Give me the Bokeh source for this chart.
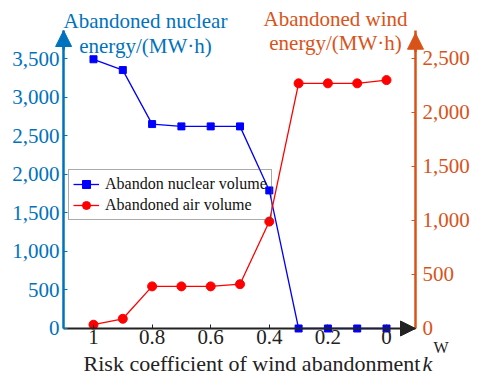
from bokeh.plotting import figure
from bokeh.models import (Range1d, LinearAxis, FixedTicker, NumeralTickFormatter,
                          Label, Arrow, NormalHead, Legend, LegendItem)
from bokeh.embed import file_html
from bokeh.resources import INLINE

# ---- data ----
risk_k = [1.0, 0.9, 0.8, 0.7, 0.6, 0.5, 0.4, 0.3, 0.2, 0.1, 0.0]
nuclear = [3490, 3350, 2650, 2620, 2620, 2620, 1790, 0, 0, 0, 0]
wind = [35, 90, 390, 390, 390, 410, 990, 2270, 2270, 2270, 2300]
x_ticks = [1.0, 0.8, 0.6, 0.4, 0.2, 0.0]
x_tick_labels = {1.0: "1", 0.8: "0.8", 0.6: "0.6", 0.4: "0.4", 0.2: "0.2", 0.0: "0"}
left_ticks = [0, 500, 1000, 1500, 2000, 2500, 3000, 3500]
right_ticks = [0, 500, 1000, 1500, 2000, 2500]

BLUE_AX = "#0072BD"
ORANGE_AX = "#D95319"
FONT = "Liberation Serif"

# axis extents (data units)
AX_L, AX_R = 1.102, -0.099      # x positions of left / right value axes
YL_TOP, YR_TOP = 3863, 2759     # tops of left / right axes
# visible window (whole canvas is the plotting frame)
W, H = 479, 375
XS, XE = 1.3174, -0.3174
YS, YE = -609.3, 4251.9
RS, RE = -435.2, 3037.0

p = figure(width=W, height=H, output_backend="svg", toolbar_location=None,
           x_range=Range1d(XS, XE), y_range=Range1d(YS, YE),
           min_border=0)
p.min_border_left = p.min_border_right = p.min_border_top = p.min_border_bottom = 0
p.title.visible = False
p.extra_y_ranges = {"right": Range1d(RS, RE)}
p.outline_line_color = None
p.xgrid.visible = False
p.ygrid.visible = False
p.background_fill_color = "white"
p.border_fill_color = "white"

# x axis
xa = p.xaxis[0]
xa.fixed_location = 0
xa.bounds = (AX_R, AX_L)
xa.ticker = FixedTicker(ticks=x_ticks)
xa.major_label_overrides = x_tick_labels
xa.axis_line_color = "#222222"
xa.axis_line_width = 2
xa.major_tick_in = 4
xa.major_tick_out = 0
xa.major_tick_line_color = "#222222"
xa.minor_tick_line_color = None
xa.major_label_text_font = FONT
xa.major_label_text_font_size = "21px"
xa.major_label_text_color = "#222222"
xa.major_label_standoff = 2

# left axis
ya = p.yaxis[0]
ya.fixed_location = AX_L
ya.bounds = (0, YL_TOP)
ya.ticker = FixedTicker(ticks=left_ticks)
ya.formatter = NumeralTickFormatter(format="0,0")
ya.axis_line_color = BLUE_AX
ya.axis_line_width = 2.5
ya.major_tick_in = 4
ya.major_tick_out = 0
ya.major_tick_line_color = BLUE_AX
ya.minor_tick_line_color = None
ya.major_label_text_font = FONT
ya.major_label_text_font_size = "21px"
ya.major_label_text_color = BLUE_AX
ya.major_label_standoff = 4

# right axis
ra = LinearAxis(y_range_name="right", ticker=FixedTicker(ticks=right_ticks),
                formatter=NumeralTickFormatter(format="0,0"))
ra.fixed_location = AX_R
ra.bounds = (0, YR_TOP)
ra.axis_line_color = ORANGE_AX
ra.axis_line_width = 2.5
ra.major_tick_in = 4
ra.major_tick_out = 0
ra.major_tick_line_color = ORANGE_AX
ra.minor_tick_line_color = None
ra.major_label_text_font = FONT
ra.major_label_text_font_size = "21px"
ra.major_label_text_color = ORANGE_AX
ra.major_label_standoff = 7
p.add_layout(ra, "right")

# series
l1 = p.line(risk_k, nuclear, line_color="#0000FF", line_width=1.3)
s1 = p.scatter(risk_k, nuclear, marker="square", size=7, fill_color="#0000FF", line_color="#0000FF")
l2 = p.line(risk_k, wind, line_color="#FF0000", line_width=1.3, y_range_name="right")
s2 = p.scatter(risk_k, wind, marker="circle", size=9, fill_color="#FF0000", line_color="#FF0000",
               y_range_name="right")

# titles and axis title
def lab(text, x, y, color, size="21px", align="center", style="normal"):
    p.add_layout(Label(x=x, y=y, text=text, text_font=FONT, text_font_size=size,
                       text_color=color, text_align=align, text_baseline="alphabetic",
                       text_font_style=style))

lab("Abandoned nuclear", 0.8225, 3986, BLUE_AX)
lab("energy/(MW\u00b7h)", 0.8225, 3666, BLUE_AX)
lab("Abandoned wind", 0.174, 4012, ORANGE_AX)
lab("energy/(MW\u00b7h)", 0.174, 3701, ORANGE_AX)
lab("Risk coefficient of wind abandonment", 1.034, -460, "#222222", size="22px", align="left")
lab("k", -0.1229, -460, "#222222", size="22px", align="left", style="italic")
lab("W", -0.1604, -240, "#222222", size="16px", align="left")

legend = Legend(items=[LegendItem(label="Abandon nuclear volume", renderers=[l1, s1]),
                       LegendItem(label="Abandoned air volume", renderers=[l2, s2])],
                location=(68, 155))
legend.label_text_font = FONT
legend.label_text_font_size = "16px"
legend.label_text_color = "#111111"
legend.glyph_width = 26
legend.glyph_height = 20
legend.label_height = 20
legend.label_standoff = 6
legend.padding = 4
legend.spacing = 1
legend.margin = 0
legend.border_line_color = "#555555"
legend.border_line_width = 1
legend.background_fill_alpha = 0
p.add_layout(legend, "center")

# axis arrows
p.add_layout(Arrow(end=NormalHead(size=15, fill_color="#222222", line_color="#222222"),
                   x_start=AX_R + 0.05, y_start=0, x_end=AX_R, y_end=0,
                   line_color="#222222", line_width=2))
p.add_layout(Arrow(end=NormalHead(size=16, fill_color=BLUE_AX, line_color=BLUE_AX),
                   x_start=AX_L, y_start=YL_TOP - 250, x_end=AX_L, y_end=YL_TOP,
                   line_color=BLUE_AX, line_width=2.5))
p.add_layout(Arrow(end=NormalHead(size=16, fill_color=ORANGE_AX, line_color=ORANGE_AX),
                   x_start=AX_R, y_start=YR_TOP - 200, x_end=AX_R, y_end=YR_TOP - 25,
                   line_color=ORANGE_AX, line_width=2.5, y_range_name="right"))

open("out.html", "w").write(file_html(p, INLINE))
